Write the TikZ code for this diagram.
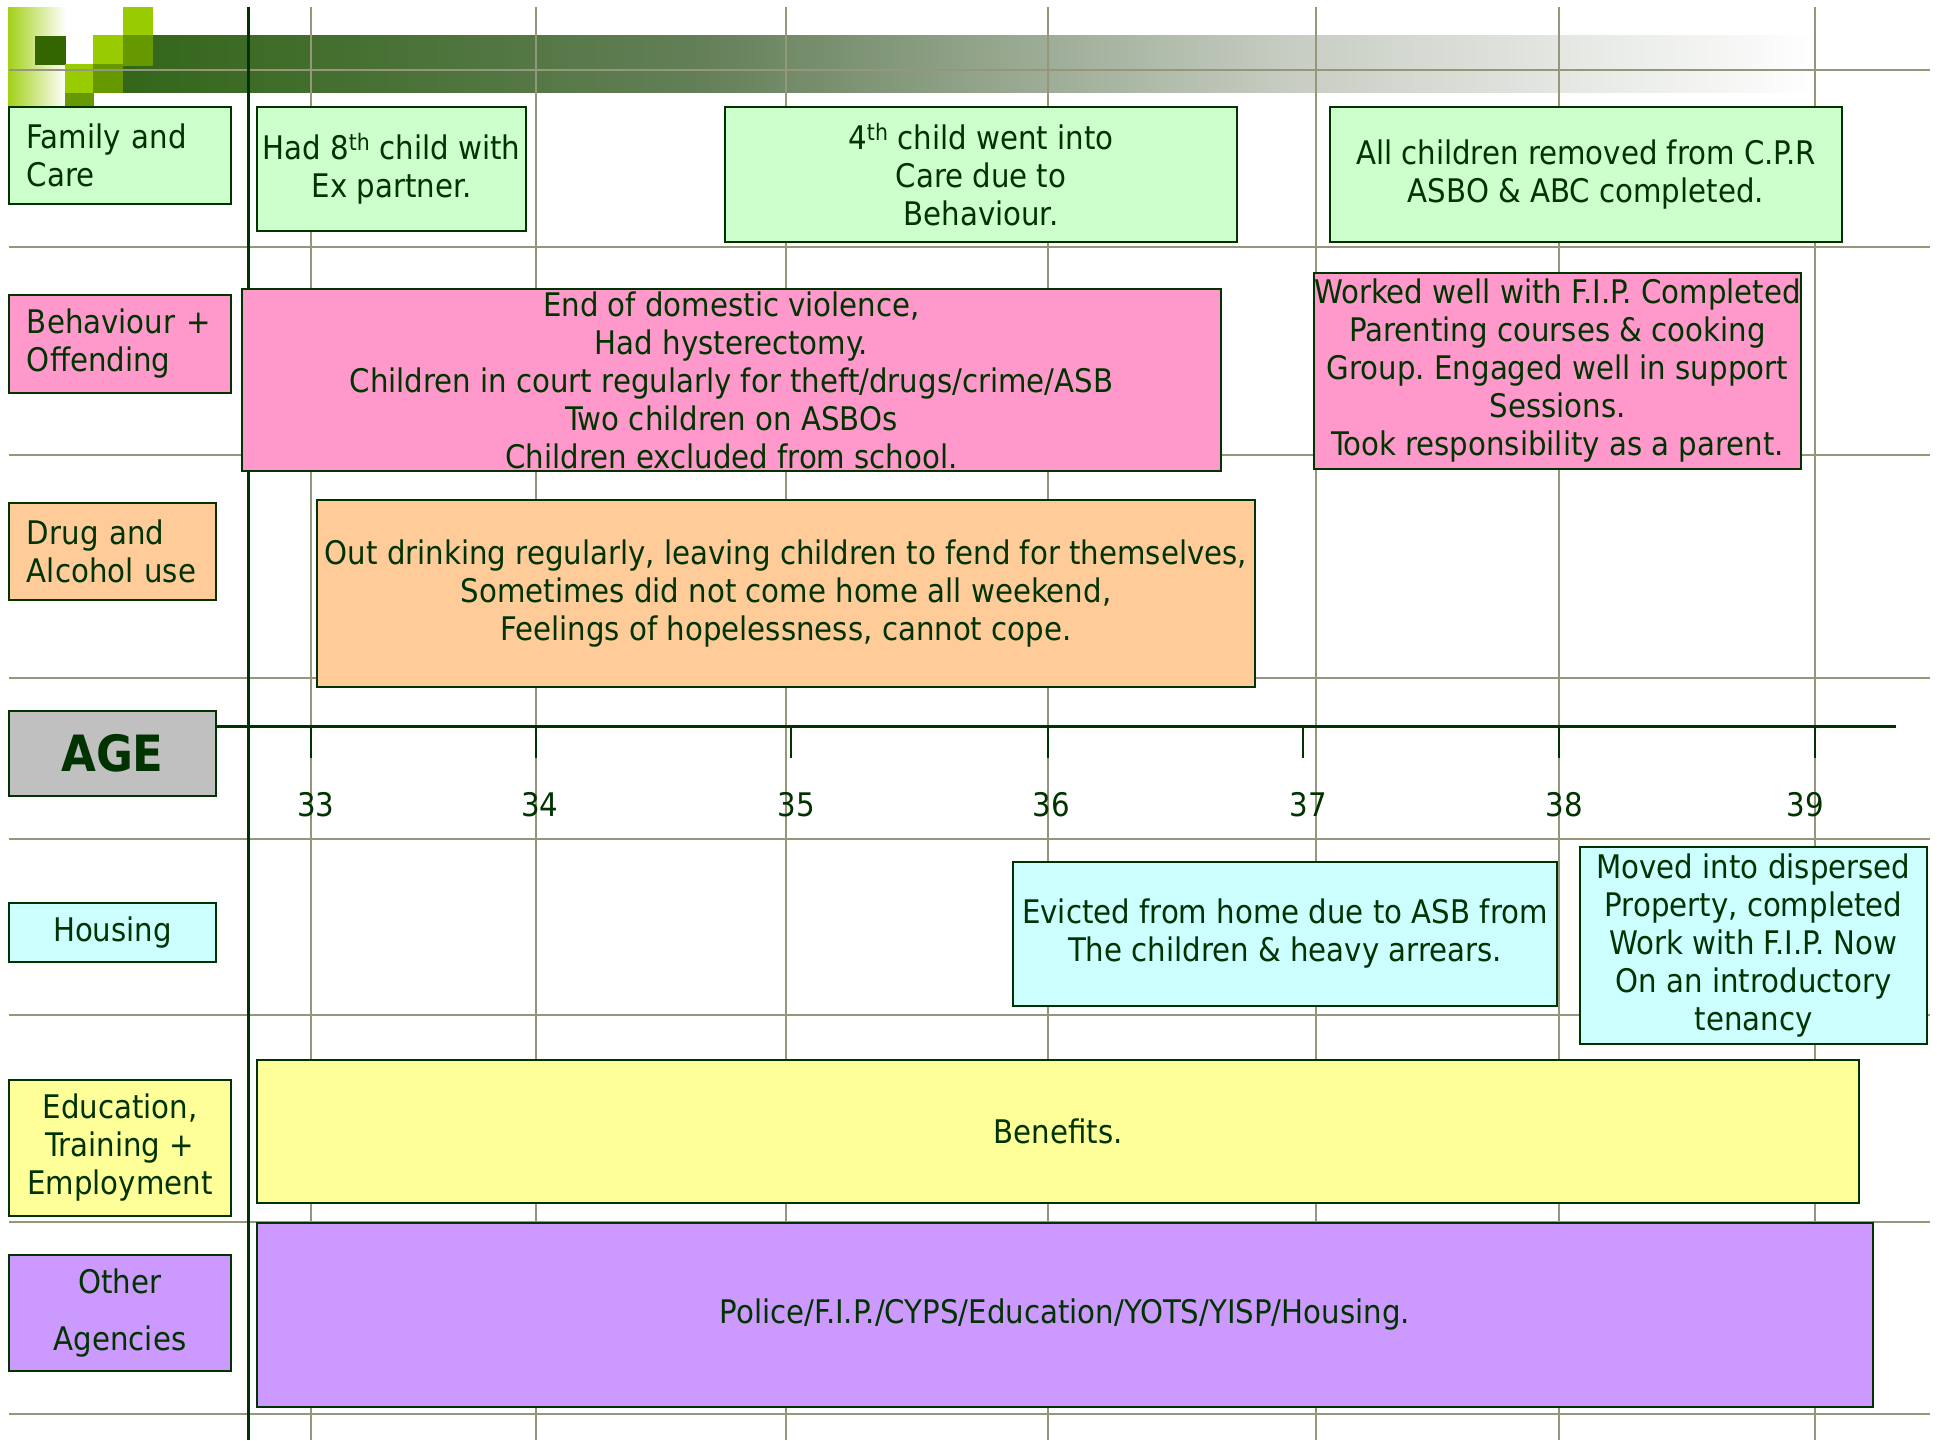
\documentclass[tikz,border=0pt]{standalone}
\usepackage{fontspec}
\setmainfont{DejaVu Sans Condensed}
\usepackage{tikz}
\frenchspacing
\definecolor{ink}{HTML}{003300}
\definecolor{gridgray}{RGB}{150,150,122}
\definecolor{famgreen}{HTML}{CCFFCC}
\definecolor{behpink}{HTML}{FF99CC}
\definecolor{drugorange}{HTML}{FFCC99}
\definecolor{agegray}{HTML}{C0C0C0}
\definecolor{houscyan}{HTML}{CCFFFF}
\definecolor{eduyellow}{HTML}{FFFF99}
\definecolor{othpurple}{HTML}{CC99FF}
\definecolor{leafbright}{HTML}{99CC00}
\definecolor{leafmid}{HTML}{669900}
\definecolor{leafdark}{HTML}{336600}
\definecolor{bandA}{HTML}{336619}
\definecolor{bandB}{HTML}{637F58}
\definecolor{bandC}{HTML}{C8CEC4}
\tikzset{
	box/.style={draw=ink, line width=2.5pt, text=ink, inner sep=0pt, align=center,
		font=\fontsize{32.5}{38}\selectfont},
	catbox/.style={box, text width=186pt, align=left},
	gridline/.style={gridgray, line width=2pt},
}

\begin{document}
\frenchspacing
\begin{tikzpicture}[x=1pt,y=-1pt]
			\fill[white] (0,0) rectangle (1937,1440);
			\useasboundingbox (0,0) rectangle (1937,1440);
			\shade[left color=leafbright!90!white, right color=white] (8,7) rectangle (66,105);
			\shade[left color=bandA, right color=bandB] (123,35) rectangle (700,92);
			\shade[left color=bandB, right color=bandC] (699,35) rectangle (1300,92);
			\shade[left color=bandC, right color=white] (1299,35) rectangle (1820,92);
			\fill[leafdark] (35,36) rectangle (66,65);
			\fill[leafbright] (93,35) rectangle (123,64);
			\fill[leafbright] (123,7) rectangle (153,35);
			\fill[leafbright] (65,64) rectangle (93,93);
			\fill[leafmid] (123,35) rectangle (153,66);
			\fill[leafmid] (93,64) rectangle (123,93);
			\fill[leafmid] (65,93) rectangle (94,106);
			\foreach \y in {70,247,455,678,839,1015,1222,1414}
				\draw[gridline] (9,\y) -- (1930,\y);
			\foreach \x in {311,536,786,1048,1316,1559,1815}
				\draw[gridline] (\x,7) -- (\x,1440);
			\draw[ink, line width=3pt] (248,7) -- (248,1440);
			\node[catbox, fill=famgreen, minimum width=222pt, minimum height=97pt] (family) at (120,155.5) {Family and\\Care};
			\node[catbox, fill=behpink, minimum width=222pt, minimum height=98pt] (behaviour) at (120,344) {Behaviour +\\Offending};
			\node[catbox, fill=drugorange, minimum width=207pt, minimum height=97pt, text width=171pt] (drug) at (112.5,551.5) {Drug and\\Alcohol use};
			\node[box, fill=agegray, minimum width=207pt, minimum height=85pt, font=\fontsize{50}{60}\selectfont\bfseries] (age) at (112.5,753.5) {AGE};
			\node[box, fill=houscyan, minimum width=207pt, minimum height=59pt] (housing) at (112.5,932.5) {Housing};
			\node[box, fill=eduyellow, minimum width=222pt, minimum height=136pt] (education) at (120,1148) {Education,\\Training +\\Employment};
			\node[box, fill=othpurple, minimum width=222pt, minimum height=116pt] (other) at (120,1313) {Other\\[19pt]Agencies};
			\coordinate (axisend) at (1896,726);
			\draw[ink, line width=3pt] (age.east |- axisend) -- (axisend);
			\foreach \x/\age in {311/33,536/34,791/35,1048/36,1303/37,1559/38,1815/39}
				\draw[ink, line width=2.5pt] (\x,726) -- (\x,758);
			\foreach \x/\age in {316/33,540/34,796/35,1051/36,1308/37,1564/38,1805/39}
				\node[text=ink, font=\fontsize{32.5}{38}\selectfont] (age\age) at (\x,805) {\age};
			\node[box, fill=famgreen, minimum width=269pt, minimum height=124pt] (eighth) at (391.5,169) {Had 8\textsuperscript{th} child with\\Ex partner.};
			\node[box, fill=famgreen, minimum width=512pt, minimum height=135pt] (fourth) at (981,174.5) {4\textsuperscript{th} child went into\\Care due to\\Behaviour.};
			\node[box, fill=famgreen, minimum width=512pt, minimum height=135pt] (removed) at (1586,174.5) {All children removed from C.P.R\\ASBO \& ABC completed.};
			\node[box, fill=behpink, minimum width=979pt, minimum height=182pt] (violence) at (731.5,380) {End of domestic violence,\\Had hysterectomy.\\Children in court regularly for theft/drugs/crime/ASB\\Two children on ASBOs\\Children excluded from school.};
			\node[box, fill=behpink, minimum width=483pt, minimum height=196pt] (workedwell) at (1557.5,371) {Worked well with F.I.P. Completed\\Parenting courses \& cooking\\Group. Engaged well in support\\Sessions.\\Took responsibility as a parent.};
			\node[box, fill=drugorange, minimum width=938pt, minimum height=187pt] (drinking) at (786,593.5) {Out drinking regularly, leaving children to fend for themselves,\\Sometimes did not come home all weekend,\\Feelings of hopelessness, cannot cope.};
			\node[box, fill=houscyan, minimum width=544pt, minimum height=144pt] (evicted) at (1285,934) {Evicted from home due to ASB from\\The children \& heavy arrears.};
			\node[box, fill=houscyan, minimum width=347pt, minimum height=197pt] (moved) at (1753.5,945.5) {Moved into dispersed\\Property, completed\\Work with F.I.P. Now\\On an introductory\\tenancy};
			\node[box, fill=eduyellow, minimum width=1602pt, minimum height=143pt] (benefits) at (1058,1131.5) {Benefits.};
			\node[box, fill=othpurple, minimum width=1616pt, minimum height=184pt] (agencies) at (1065,1315) {Police/F.I.P./CYPS/Education/YOTS/YISP/Housing.};
		\end{tikzpicture}
\end{document}
